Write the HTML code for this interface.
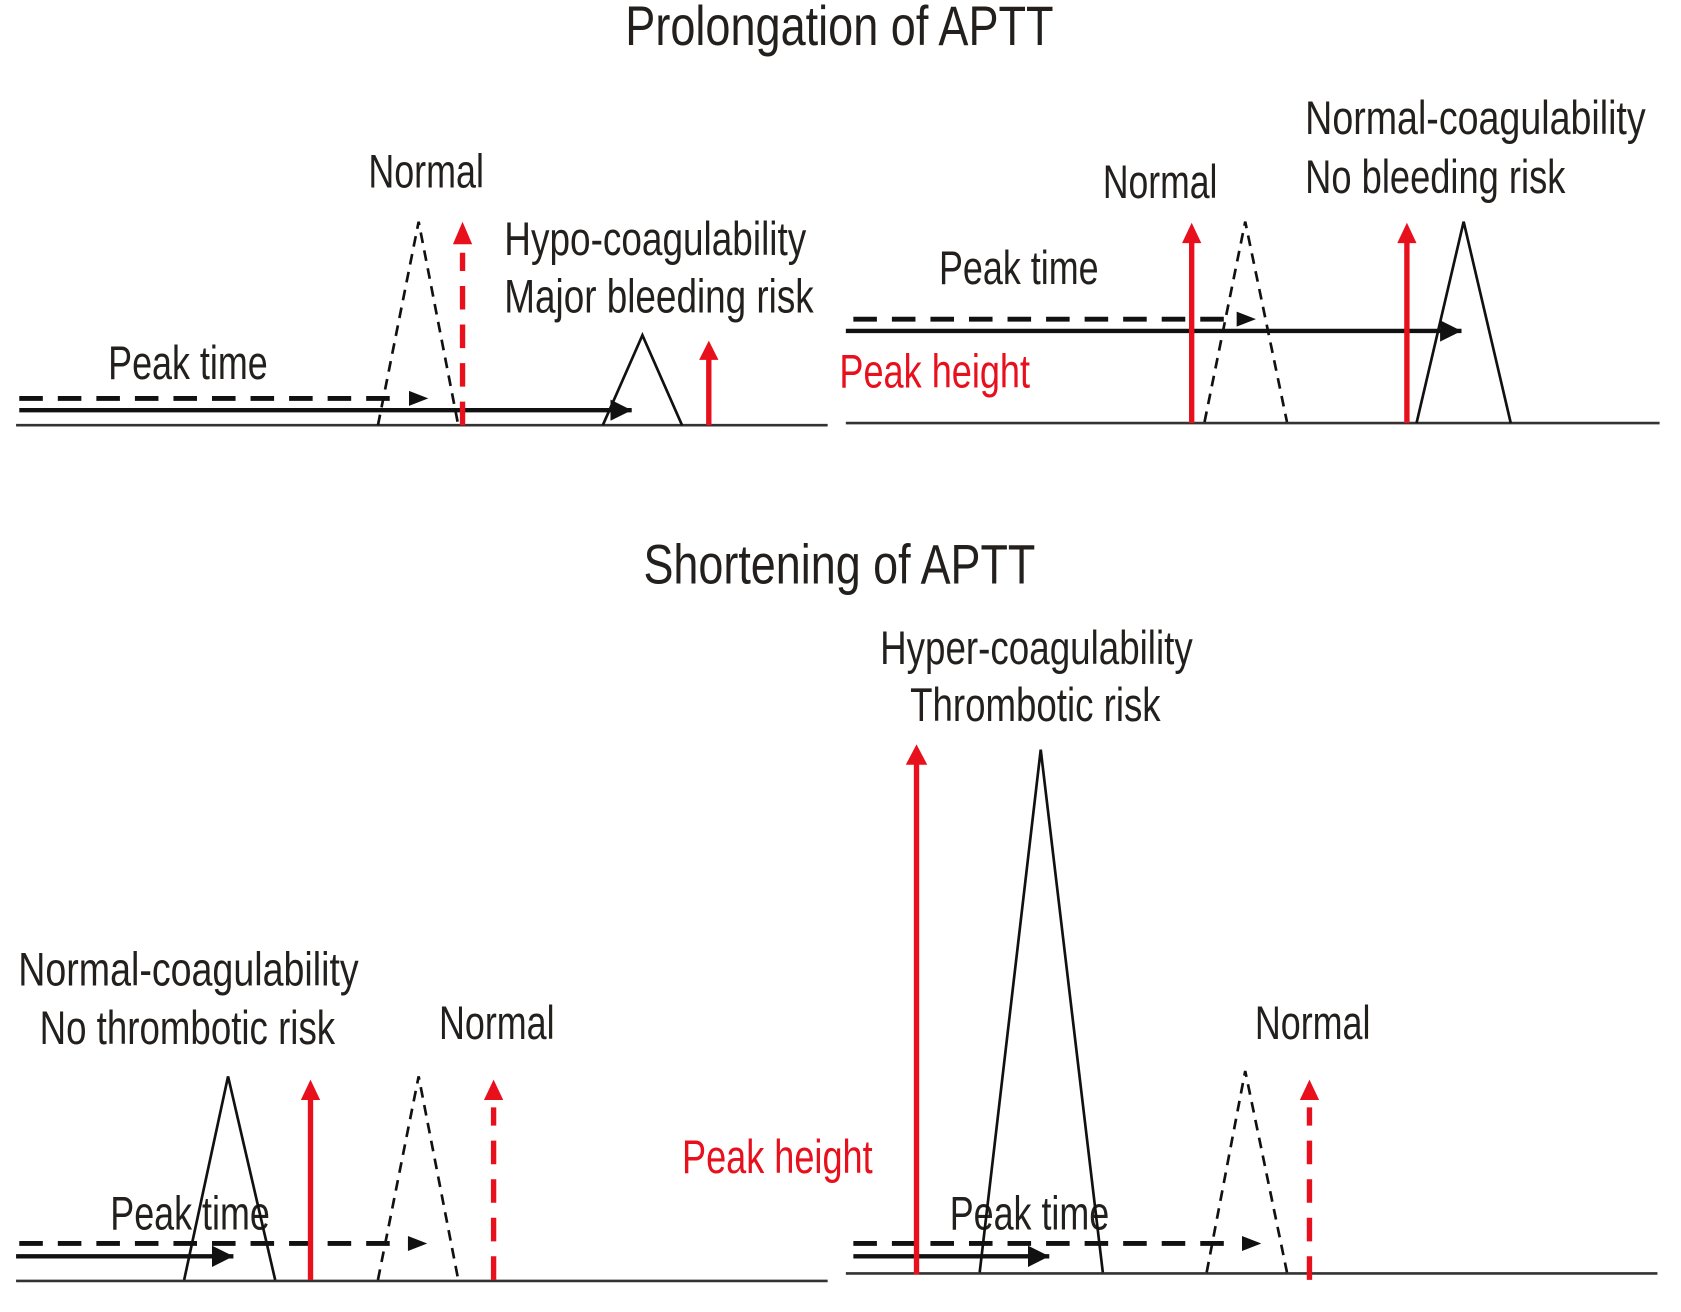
<!DOCTYPE html>
<html><head><style>html,body{margin:0;padding:0;background:#fff}svg{display:block}</style></head>
<body>
<svg width="1681" height="1312" viewBox="0 0 1570 1225" preserveAspectRatio="none" xmlns="http://www.w3.org/2000/svg" font-family="'Liberation Sans', sans-serif">
<defs>
<marker id="ab" markerWidth="6" markerHeight="6" refX="5" refY="3" orient="auto" markerUnits="strokeWidth"><path d="M0,0.5 L5,3 L0,5.5 z" fill="#111"/></marker>
</defs>
<g fill="#231f1c" font-size="52">
<text x="584" y="42" textLength="400" lengthAdjust="spacingAndGlyphs">Prolongation of APTT</text>
<text x="601" y="545" textLength="366" lengthAdjust="spacingAndGlyphs">Shortening of APTT</text>
</g>
<g fill="#231f1c" font-size="44">
<text x="344" y="175" textLength="108" lengthAdjust="spacingAndGlyphs">Normal</text>
<text x="471" y="238" textLength="282" lengthAdjust="spacingAndGlyphs">Hypo-coagulability</text>
<text x="471" y="292" textLength="289" lengthAdjust="spacingAndGlyphs">Major bleeding risk</text>
<text x="101" y="354" textLength="149" lengthAdjust="spacingAndGlyphs">Peak time</text>
<text x="1030" y="185" textLength="107" lengthAdjust="spacingAndGlyphs">Normal</text>
<text x="1219" y="125" textLength="318" lengthAdjust="spacingAndGlyphs">Normal-coagulability</text>
<text x="1219" y="180" textLength="243" lengthAdjust="spacingAndGlyphs">No bleeding risk</text>
<text x="877" y="265" textLength="149" lengthAdjust="spacingAndGlyphs">Peak time</text>
<text x="17" y="920" textLength="318" lengthAdjust="spacingAndGlyphs">Normal-coagulability</text>
<text x="37" y="975" textLength="276" lengthAdjust="spacingAndGlyphs">No thrombotic risk</text>
<text x="410" y="970" textLength="108" lengthAdjust="spacingAndGlyphs">Normal</text>
<text x="103" y="1148" textLength="149" lengthAdjust="spacingAndGlyphs">Peak time</text>
<text x="822" y="620" textLength="292" lengthAdjust="spacingAndGlyphs">Hyper-coagulability</text>
<text x="850" y="673" textLength="234" lengthAdjust="spacingAndGlyphs">Thrombotic risk</text>
<text x="1172" y="970" textLength="108" lengthAdjust="spacingAndGlyphs">Normal</text>
<text x="887" y="1148" textLength="149" lengthAdjust="spacingAndGlyphs">Peak time</text>
</g>
<g fill="#e8101c" font-size="44">
<text x="784" y="362" textLength="178" lengthAdjust="spacingAndGlyphs">Peak height</text>
<text x="637" y="1095" textLength="178" lengthAdjust="spacingAndGlyphs">Peak height</text>
</g>
<g stroke="#333" stroke-width="2.5" fill="none">
<line x1="15" y1="397" x2="773" y2="397"/>
<line x1="790" y1="395" x2="1550" y2="395"/>
<line x1="15" y1="1196" x2="773" y2="1196"/>
<line x1="790" y1="1189" x2="1548" y2="1189"/>
</g>
<g fill="none" stroke="#111" stroke-width="2.5">
<path d="M563,397 L600,313 L637,397"/>
<path d="M1323,395 L1367,207 L1411,395"/>
<path d="M172,1195 L213,1005 L257,1195"/>
<path d="M915,1188 L972,700 L1030,1188"/>
</g>
<g fill="none" stroke="#111" stroke-width="2.5" stroke-dasharray="10,7">
<path d="M353,397 L391,207 L428,397"/>
<path d="M1125,394 L1163,207 L1202,394"/>
<path d="M353,1195 L391,1005 L428,1195"/>
<path d="M1127,1188 L1163,1000 L1202,1188"/>
</g>
<g stroke="#111" stroke-width="4" fill="none">
<line x1="18" y1="383" x2="590" y2="383" marker-end="url(#ab)"/>
<line x1="790" y1="309" x2="1365" y2="309" marker-end="url(#ab)"/>
<line x1="15" y1="1173" x2="218" y2="1173" marker-end="url(#ab)"/>
<line x1="797" y1="1173" x2="980" y2="1173" marker-end="url(#ab)"/>
</g>
<g stroke="#111" stroke-width="4.5" fill="none" stroke-dasharray="22,14">
<line x1="18" y1="372" x2="370" y2="372"/>
<line x1="797" y1="298" x2="1145" y2="298"/>
<line x1="18" y1="1161" x2="370" y2="1161"/>
<line x1="797" y1="1161" x2="1150" y2="1161"/>
</g>
<g fill="#111">
<path d="M382,365 L400,372 L382,379z"/>
<path d="M1155,291 L1173,298 L1155,305z"/>
<path d="M381,1154 L399,1161 L381,1168z"/>
<path d="M1160,1154 L1178,1161 L1160,1168z"/>
</g>
<g stroke="#e8101c" stroke-width="5" fill="none">
<line x1="662" y1="397" x2="662" y2="334"/>
<line x1="1113" y1="395" x2="1113" y2="225"/>
<line x1="1314" y1="395" x2="1314" y2="225"/>
<line x1="290" y1="1195" x2="290" y2="1025"/>
<line x1="856" y1="1190" x2="856" y2="712"/>
</g>
<g stroke="#e8101c" stroke-width="5" fill="none" stroke-dasharray="22,14">
<line x1="432" y1="397" x2="432" y2="236"/>
<line x1="461" y1="1195" x2="461" y2="1034"/>
<line x1="1223" y1="1195" x2="1223" y2="1034"/>
</g>
<g fill="#e8101c">
<path d="M653,336 L662,318 L671,336z"/>
<path d="M1104,227 L1113,208 L1122,227z"/>
<path d="M1305,227 L1314,208 L1323,227z"/>
<path d="M423,228 L432,207 L441,228z"/>
<path d="M281,1027 L290,1008 L299,1027z"/>
<path d="M452,1027 L461,1008 L470,1027z"/>
<path d="M846,714 L856,695 L866,714z"/>
<path d="M1214,1027 L1223,1008 L1232,1027z"/>
</g>
</svg>
</body></html>
